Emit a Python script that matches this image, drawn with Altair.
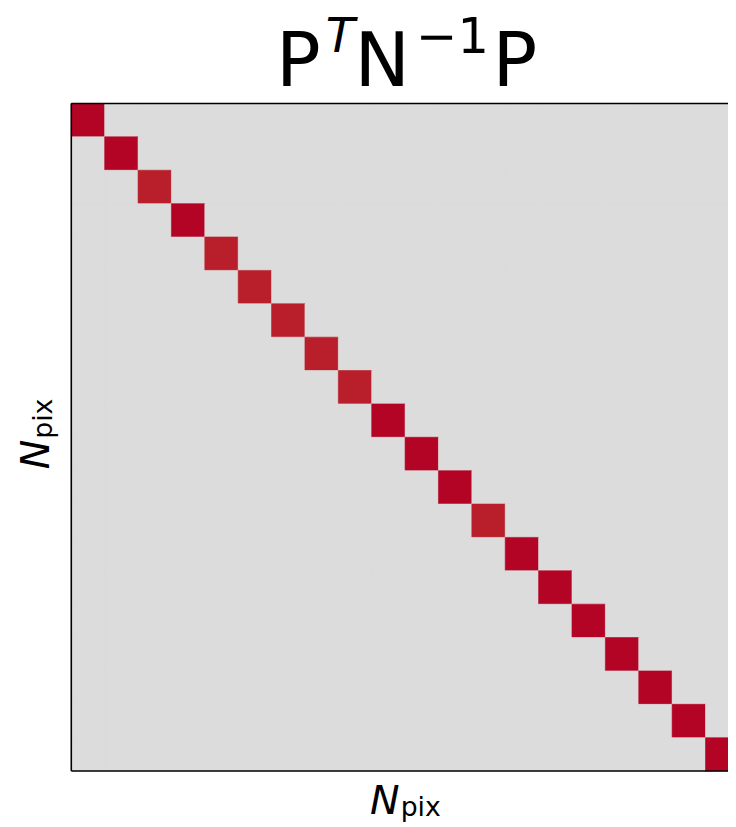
import altair as alt
import pandas as pd

# Diagonal values of P^T N^-1 P (20 pixels); off-diagonal entries are zero
n_pix = 20
diag_values = [1.0, 1.0, 0.95, 1.0, 0.95, 0.95, 0.95, 0.95, 0.95, 1.0,
               1.0, 1.0, 0.95, 1.0, 1.0, 1.0, 1.0, 1.0, 1.0, 1.0]

rows = []
for i in range(n_pix):
    for j in range(n_pix):
        rows.append({"col": j, "row": i, "value": diag_values[i] if i == j else 0.0})
df = pd.DataFrame(rows)

FULL = 675      # full (square) extent of the matrix in pixels
W = 664         # visible part (right side is cut off, as in the reference)
H = 675
FONT = "DejaVu Sans"

color_scale = alt.Scale(domain=[0.0, 0.95, 1.0],
                        range=["#dddcdc", "#b91f2b", "#b40426"],
                        interpolate="rgb")

heat = alt.Chart(df).mark_rect(strokeWidth=0.6).encode(
    x=alt.X("col:O", axis=None,
            scale=alt.Scale(paddingInner=0, paddingOuter=0, range=[0, FULL])),
    y=alt.Y("row:O", axis=None, scale=alt.Scale(paddingInner=0, paddingOuter=0)),
    color=alt.Color("value:Q", scale=color_scale, legend=None),
    stroke=alt.Stroke("value:Q", scale=color_scale, legend=None),
)

one = pd.DataFrame({"a": [0]})

def txt(s, x, y, size, italic=False, align="center", angle=0):
    kw = dict(text=s, font=FONT, fontSize=size, align=align,
              baseline="alphabetic", color="black")
    if italic:
        kw["fontStyle"] = "italic"
    if angle:
        kw["angle"] = angle
    return alt.Chart(one).mark_text(**kw).encode(x=alt.value(x), y=alt.value(y))

def rule(x, x2, y, y2):
    return alt.Chart(one).mark_rule(color="black", strokeWidth=1.6).encode(
        x=alt.value(x), x2=alt.value(x2), y=alt.value(y), y2=alt.value(y2))

frame = [
    rule(0, FULL, 0, 0),
    rule(0, FULL, H, H),
    rule(0, 0, 0, H),
]

# Title: P^T N^-1 P
title_layers = [
    txt("P", 229.5, -18, 75),
    txt("T", 272, -52, 48, italic=True),
    txt("N", 314.5, -18, 75),
    txt("\u22121", 385.5, -51, 50),
    txt("P", 448.5, -18, 75),
]

# Axis labels: N_pix
xlabel_layers = [
    txt("N", 332, 718, 40, italic=True, align="right"),
    txt("pix", 333, 720, 27, align="left"),
]
ylabel_layers = [
    txt("N", -23, 340, 40, italic=True, align="right", angle=270),
    txt("pix", -20, 339, 27, align="left", angle=270),
]

chart = alt.layer(heat, *frame, *title_layers, *xlabel_layers, *ylabel_layers).properties(
    width=W,
    height=H,
    autosize=alt.AutoSizeParams(type="none"),
    padding={"left": 64, "top": 92, "right": 0, "bottom": 52},
).configure_view(
    fill="#dddcdc",
    stroke=None,
)

chart.save("out.html", embed_options={"renderer": "svg", "actions": False})
